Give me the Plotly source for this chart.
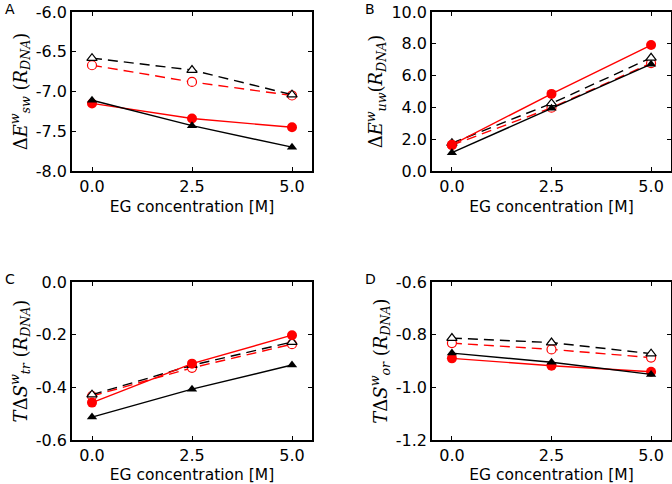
import plotly.graph_objects as go

# -----------------------------------------------------------------------------
# Data
# -----------------------------------------------------------------------------

eg_conc = [0.0, 2.5, 5.0]
x_ticks = [0.0, 2.5, 5.0]

# panel A : dE_sw
a_black_filled = [-7.11, -7.43, -7.70]
a_red_filled = [-7.15, -7.34, -7.45]
a_black_open = [-6.58, -6.73, -7.04]
a_red_open = [-6.67, -6.88, -7.05]

# panel B : dE_uw
b_black_filled = [1.15, 3.95, 6.72]
b_red_filled = [1.65, 4.85, 7.92]
b_black_open = [1.75, 4.25, 7.12]
b_red_open = [1.62, 3.98, 6.78]

# panel C : TdS_tr
c_black_filled = [-0.513, -0.407, -0.315]
c_red_filled = [-0.458, -0.310, -0.202]
c_black_open = [-0.428, -0.316, -0.228]
c_red_open = [-0.433, -0.326, -0.236]

# panel D : TdS_or
d_black_filled = [-0.870, -0.905, -0.951]
d_red_filled = [-0.890, -0.918, -0.941]
d_black_open = [-0.813, -0.830, -0.872]
d_red_open = [-0.832, -0.856, -0.887]

a_yticks = [-8.0, -7.5, -7.0, -6.5, -6.0]
b_yticks = [0.0, 2.0, 4.0, 6.0, 8.0, 10.0]
c_yticks = [-0.6, -0.4, -0.2, 0.0]
d_yticks = [-1.2, -1.0, -0.8, -0.6]

panel_labels = ["A", "B", "C", "D"]
y_titles = [
    "Δ<i>E</i><sup><i>w</i></sup><sub><i>sw</i></sub> (<i>R</i><sub><i>DNA</i></sub>)",
    "Δ<i>E</i><sup><i>w</i></sup><sub><i>uw</i></sub>(<i>R</i><sub><i>DNA</i></sub>)",
    "<i>T</i>Δ<i>S</i><sup><i>w</i></sup><sub><i>tr</i></sub> (<i>R</i><sub><i>DNA</i></sub>)",
    "<i>T</i>Δ<i>S</i><sup><i>w</i></sup><sub><i>or</i></sub> (<i>R</i><sub><i>DNA</i></sub>)",
]

# -----------------------------------------------------------------------------
# Figure
# -----------------------------------------------------------------------------

W, H = 672, 484
RED = "#ff0000"
DASH = "10px,6px"

panels = [
    (a_black_filled, a_red_filled, a_black_open, a_red_open, a_yticks),
    (b_black_filled, b_red_filled, b_black_open, b_red_open, b_yticks),
    (c_black_filled, c_red_filled, c_black_open, c_red_open, c_yticks),
    (d_black_filled, d_red_filled, d_black_open, d_red_open, d_yticks),
]

# plot areas in pixels (left, right, top, bottom)
boxes = [(72, 312, 12, 171), (432, 671, 12, 171),
         (72, 312, 282, 440), (432, 671, 282, 440)]

fig = go.Figure()

for i, (bf, rf, bo, ro, yt) in enumerate(panels):
    n = "" if i == 0 else str(i + 1)
    xa, ya = "x" + n, "y" + n

    fig.add_trace(go.Scatter(x=eg_conc, y=ro, xaxis=xa, yaxis=ya, mode="lines+markers",
                             line=dict(color=RED, width=1.4, dash=DASH),
                             marker=dict(symbol="circle", size=9, color="white",
                                         line=dict(color=RED, width=1.2))))
    fig.add_trace(go.Scatter(x=eg_conc, y=bo, xaxis=xa, yaxis=ya, mode="lines+markers",
                             line=dict(color="black", width=1.4, dash=DASH),
                             marker=dict(symbol="triangle-up", size=9, color="white",
                                         line=dict(color="black", width=1.2))))
    fig.add_trace(go.Scatter(x=eg_conc, y=rf, xaxis=xa, yaxis=ya, mode="lines+markers",
                             line=dict(color=RED, width=1.4),
                             marker=dict(symbol="circle", size=10, color=RED,
                                         line=dict(color=RED, width=0))))
    fig.add_trace(go.Scatter(x=eg_conc, y=bf, xaxis=xa, yaxis=ya, mode="lines+markers",
                             line=dict(color="black", width=1.4),
                             marker=dict(symbol="triangle-up", size=9, color="black",
                                         line=dict(color="black", width=0))))

    l, r, t, b = boxes[i]
    axis_common = dict(showline=True, linecolor="black", linewidth=1.5, mirror="ticks",
                       ticks="inside", ticklen=4, tickcolor="black", tickwidth=1,
                       showgrid=False, zeroline=False, automargin=False,
                       tickfont=dict(family="DejaVu Sans", size=16, color="black"))
    fig.layout["xaxis" + n] = dict(
        axis_common, domain=[l / W, r / W], anchor=ya, range=[-0.5, 5.5],
        tickvals=x_ticks, ticktext=[f"{v:.1f}" for v in x_ticks],
        title=dict(text="EG concentration [M]", standoff=6,
                   font=dict(family="DejaVu Sans", size=15.5, color="black")))
    fig.layout["yaxis" + n] = dict(
        axis_common, domain=[1 - b / H, 1 - t / H], anchor=xa, range=[yt[0], yt[-1]],
        tickvals=yt, ticktext=[f"{v:.1f}" for v in yt],
        title=dict(text=y_titles[i], standoff=4,
                   font=dict(family="DejaVu Serif", size=18, color="black")))

    fig.add_annotation(text=panel_labels[i], xref="paper", yref="paper",
                       x=(l - 62) / W, y=1 - (t - 12) / H, xanchor="center", yanchor="top",
                       showarrow=False, borderpad=0,
                       font=dict(family="DejaVu Sans", size=14, color="black"))

fig.update_layout(width=W, height=H,
                  margin=dict(l=0, r=0, t=0, b=0, pad=0, autoexpand=False),
                  paper_bgcolor="white", plot_bgcolor="white", showlegend=False)

fig.write_html("out.html", config={"displayModeBar": False},
               post_script="document.body.style.margin='0';")
